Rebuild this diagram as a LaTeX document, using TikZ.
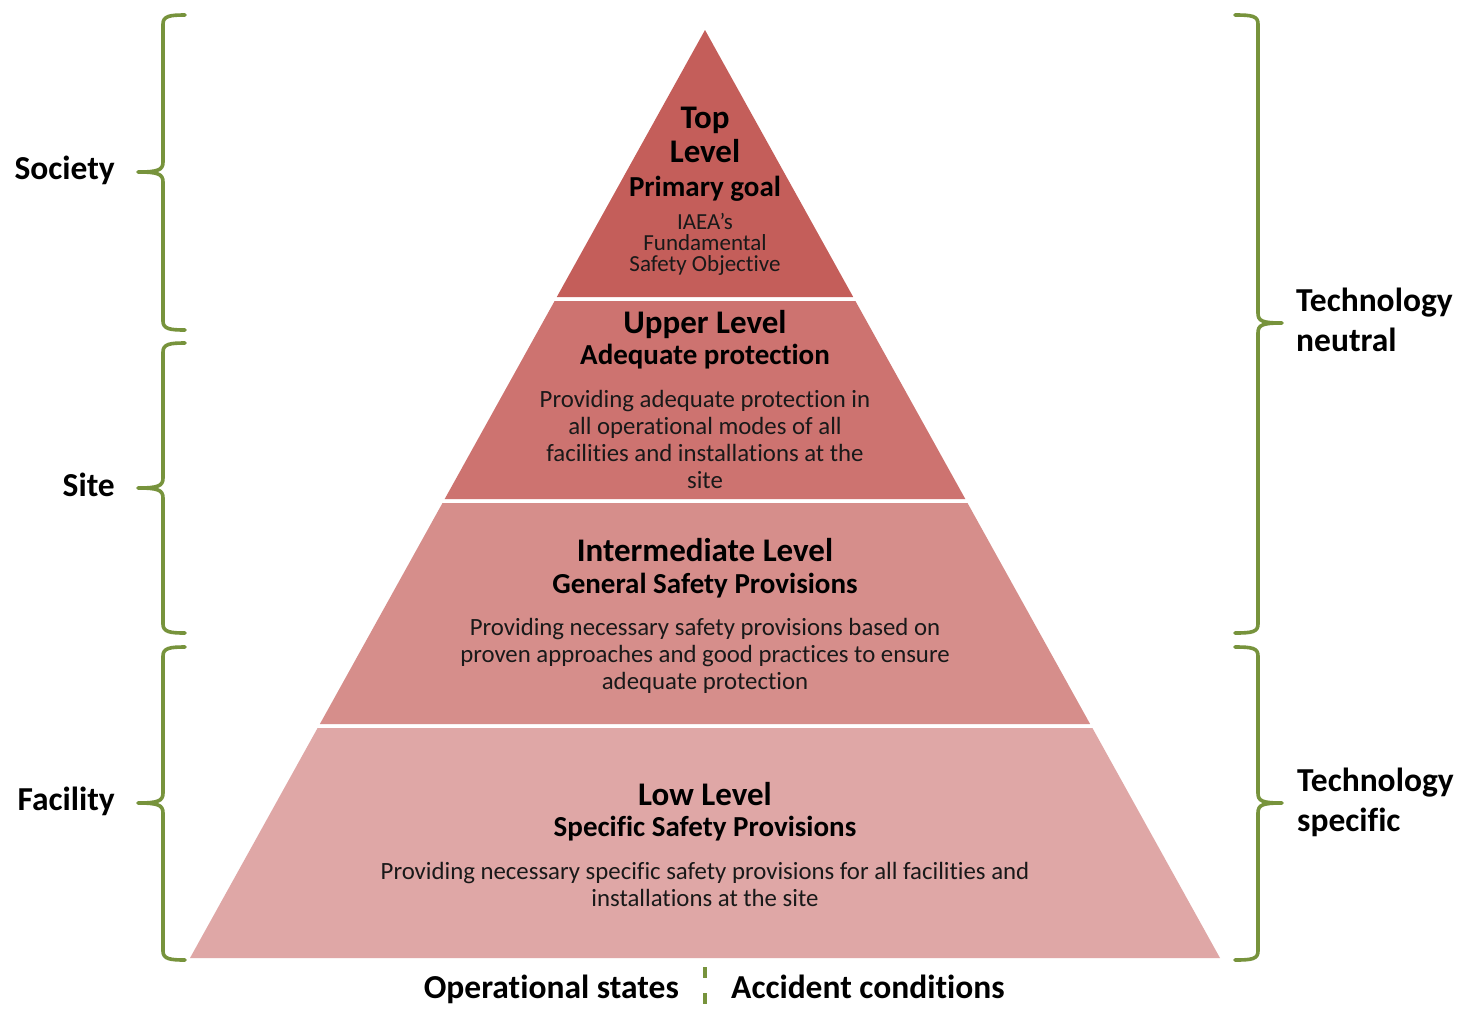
\documentclass[tikz,border=0pt]{standalone}
\usepackage{fontspec}
\setmainfont{Carlito}[Ligatures={NoCommon}]
\definecolor{cTop}{RGB}{196,94,90}
\definecolor{cUp}{RGB}{205,115,112}
\definecolor{cMid}{RGB}{214,142,139}
\definecolor{cLow}{RGB}{223,167,166}
\definecolor{brc}{RGB}{119,147,60}
\definecolor{txt}{RGB}{25,25,25}
\newcommand\mybraceL[3]{% top y, mid y, bottom y
  \draw[brace] (185,#1) .. controls (170,#1) and (163,#1+1) .. (163,#1+9) -- (163,#2-10)
    .. controls (163,#2-2) and (158,#2) .. (138,#2)
    .. controls (158,#2) and (163,#2+2) .. (163,#2+10) -- (163,#3-9)
    .. controls (163,#3-1) and (170,#3) .. (185,#3);}
\newcommand\mybraceR[3]{%
  \draw[brace] (1235,#1) .. controls (1252,#1) and (1258,#1+1) .. (1258,#1+9) -- (1258,#2-10)
    .. controls (1258,#2-2) and (1262,#2) .. (1282,#2)
    .. controls (1262,#2) and (1258,#2+2) .. (1258,#2+10) -- (1258,#3-9)
    .. controls (1258,#3-1) and (1252,#3) .. (1235,#3);}
\begin{document}
\begin{tikzpicture}[x=1pt,y=-1pt,
  brace/.style={draw=brc,line width=3.6pt,line cap=round,line join=round},
  ttl/.style={font=\fontsize{33}{35}\selectfont\bfseries,text=black,inner sep=0pt,anchor=base},
  sub/.style={font=\fontsize{29}{31}\selectfont\bfseries,text=black,inner sep=0pt,anchor=base},
  body/.style={font=\fontsize{24.8}{27}\selectfont,text=txt,align=center,inner sep=0pt},
  tbody/.style={font=\fontsize{23}{20}\selectfont,text=txt,inner sep=0pt,anchor=base,text height=14pt,text depth=5pt},
  side/.style={font=\fontsize{33.5}{40}\selectfont\bfseries,text=black,inner sep=0pt,align=left}]
\useasboundingbox[fill=white] (0,0) rectangle (1459,1010);
% layers
\coordinate (apex) at (705,30);
\fill[cTop] (apex) -- (853.2,297) -- (556.8,297) -- cycle;
\fill[cUp] (554.6,301) -- (855.4,301) -- (965.3,499) -- (444.7,499) -- cycle;
\fill[cMid] (442.5,503) -- (967.5,503) -- (1090.1,724) -- (319.9,724) -- cycle;
\fill[cLow] (317.6,728) -- (1092.4,728) -- (1220,958) -- (190,958) -- cycle;
% top level text
\node[ttl] (t1) at (705,128) {Top};
\node[ttl] (t2) at (705,162) {Level};
\node[sub] (t3) at (705,196) {Primary goal};
\node[tbody] (t4) at (705,229) {IAEA’s};
\node[tbody] (t5) at (705,250) {Fundamental};
\node[tbody] (t6) at (705,271) {Safety Objective};
% upper
\node[ttl] (u1) at (705,333) {Upper Level};
\node[sub] (u2) at (705,364) {Adequate protection};
\node[body] (u3) at (705,439) {Providing adequate protection in\\all operational modes of all\\facilities and installations at the\\site};
% intermediate
\node[ttl] (m1) at (705,561) {Intermediate Level};
\node[sub] (m2) at (705,593) {General Safety Provisions};
\node[body] (m3) at (705,656) {Providing necessary safety provisions based on\\proven approaches and good practices to ensure\\adequate protection};
% low
\node[ttl] (l1) at (705,805) {Low Level};
\node[sub] (l2) at (705,836) {Specific Safety Provisions};
\node[body] (l3) at (705,884) {Providing necessary specific safety provisions for all facilities and\\installations at the site};
% braces
\mybraceL{15}{172}{330}
\mybraceL{343}{488}{633}
\mybraceL{647}{803}{960}
\mybraceR{15}{323}{633}
\mybraceR{647}{803}{960}
% side labels
\node[side,anchor=base east] (soc) at (115,179) {Society};
\node[side,anchor=base east] (site) at (115,496) {Site};
\node[side,anchor=base east] (fac) at (115,810) {Facility};
\node[side,anchor=west] (tn) at (1296,320) {Technology\\neutral};
\node[side,anchor=west] (ts) at (1297,802) {Technology\\specific};
% bottom
\coordinate (d1) at (705,967);
\coordinate (d2) at (705,1010);
\draw[draw=brc,line width=3.6pt,dash pattern=on 11pt off 15pt] (d1) -- (d2);
\node[side,anchor=base east] (op) at (679,998) {Operational states};
\node[side,anchor=base west] (ac) at (731,998) {Accident conditions};
\end{tikzpicture}
\end{document}
